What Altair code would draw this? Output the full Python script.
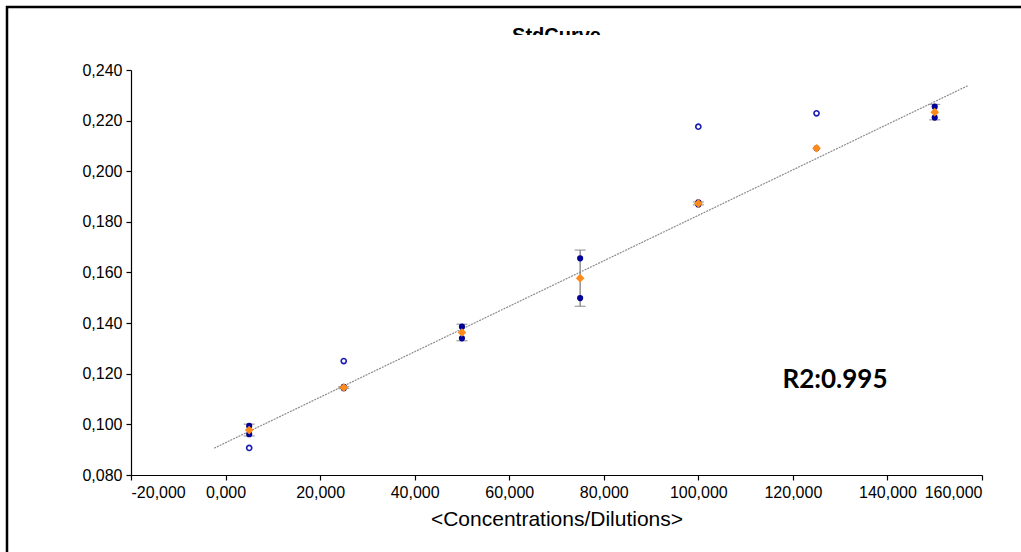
import altair as alt
import pandas as pd

# ---- data ----
x_filled = [5, 5, 25, 25, 50, 50, 75, 75, 100, 100, 125, 150, 150]
y_filled = [0.0994, 0.0961, 0.1143, 0.1148, 0.1386, 0.1340, 0.1656, 0.1499,
            0.1877, 0.1869, 0.2091, 0.2255, 0.2212]
x_open = [5, 25, 100, 125]
y_open = [0.0907, 0.1250, 0.2176, 0.2229]
trend_x = [-2.4, 157.0]
trend_y = [0.0906, 0.2338]
x_ticks = [-20, 0, 20, 40, 60, 80, 100, 120, 140, 160]
y_ticks = [0.08, 0.10, 0.12, 0.14, 0.16, 0.18, 0.20, 0.22, 0.24]
title_text = "StdCurve"
x_title = "<Concentrations/Dilutions>"
r2_text = "R2:0.995"

W, H = 851, 405
PL, PT, PR, PB = 131, 70, 39, 77

filled = pd.DataFrame({"x": x_filled, "y": y_filled})
opened = pd.DataFrame({"x": x_open, "y": y_open})
trend = pd.DataFrame({"x": trend_x, "y": trend_y})
one = pd.DataFrame({"t": [title_text], "r": [r2_text]})

xscale = alt.Scale(domain=[-20, 160], nice=False, zero=False)
yscale = alt.Scale(domain=[0.08, 0.24], nice=False, zero=False)

label_expr = "replace(replace(format(datum.value, '.3f'), '.', ','), '\u2212', '-')"
xenc = alt.X("x:Q", scale=xscale, axis=alt.Axis(values=x_ticks, title=x_title, labelExpr=label_expr))
yenc = alt.Y("y:Q", scale=yscale, axis=alt.Axis(values=y_ticks, title=None, labelExpr=label_expr))

frame = alt.Chart(one).mark_rect(fill="white", fillOpacity=0, stroke="black", strokeWidth=2.5).encode(
    x=alt.value(7 - PL), x2=alt.value(1021 - PL + 40),
    y=alt.value(7 - PT), y2=alt.value(552 - PT + 40))

line = alt.Chart(trend).mark_line(color="#8c8c8c", strokeWidth=1.2, strokeDash=[2, 1]).encode(
    x=xenc, y=yenc)

stats = alt.Chart(filled).transform_aggregate(
    m="mean(y)", sd="stdev(y)", groupby=["x"]
).transform_calculate(lo="datum.m - datum.sd", hi="datum.m + datum.sd")

err_rule = stats.mark_rule(color="#808080", strokeWidth=1.3).encode(
    x=alt.X("x:Q", scale=xscale), y=alt.Y("lo:Q", scale=yscale), y2="hi:Q")
cap_lo = stats.mark_tick(color="#808080", orient="horizontal", size=11, thickness=1.3).encode(
    x=alt.X("x:Q", scale=xscale), y=alt.Y("lo:Q", scale=yscale))
cap_hi = stats.mark_tick(color="#808080", orient="horizontal", size=11, thickness=1.3).encode(
    x=alt.X("x:Q", scale=xscale), y=alt.Y("hi:Q", scale=yscale))

open_pts = alt.Chart(opened).mark_point(shape="circle", filled=False, color="#1c1cb0",
                                        strokeWidth=1.6, size=26, opacity=1).encode(x=xenc, y=yenc)
fill_pts = alt.Chart(filled).mark_point(shape="circle", filled=True, color="#000096",
                                        size=38, opacity=1).encode(x=xenc, y=yenc)
means = stats.mark_point(shape="diamond", filled=True, color="#ff8c1a", size=75, opacity=1).encode(
    x=alt.X("x:Q", scale=xscale), y=alt.Y("m:Q", scale=yscale))

r2 = alt.Chart(one).mark_text(font="Lato", fontWeight="bold", fontSize=26, color="black",
                              align="center", baseline="middle").encode(
    text="r:N", x=alt.value(704), y=alt.value(310))

title = alt.Chart(one).mark_text(font="Liberation Sans", fontWeight="bold", fontSize=20,
                                 color="black", align="center", baseline="alphabetic").encode(
    text="t:N", x=alt.value(W / 2), y=alt.value(-28))
cover = alt.Chart(one).mark_rect(color="white").encode(
    x=alt.value(300), x2=alt.value(560), y=alt.value(-35), y2=alt.value(-8))

chart = alt.layer(frame, line, err_rule, cap_lo, cap_hi, open_pts, fill_pts, means, r2, title, cover).properties(
    width=W, height=H,
    autosize=alt.AutoSizeParams(type="none"),
    padding={"left": PL, "top": PT, "right": PR, "bottom": PB},
    background="white",
).configure_view(stroke=None).configure_axis(
    grid=False, domainColor="black", tickColor="black", labelColor="black", titleColor="black",
    labelFont="Liberation Sans", titleFont="Liberation Sans", labelFontSize=16,
    titleFontSize=21, titleFontWeight="normal", tickSize=5, domainWidth=1.2, tickWidth=1.2,
    labelPadding=4,
).configure_axisX(titlePadding=8)

chart.save("out.html", embed_options={"renderer": "svg", "actions": False})
